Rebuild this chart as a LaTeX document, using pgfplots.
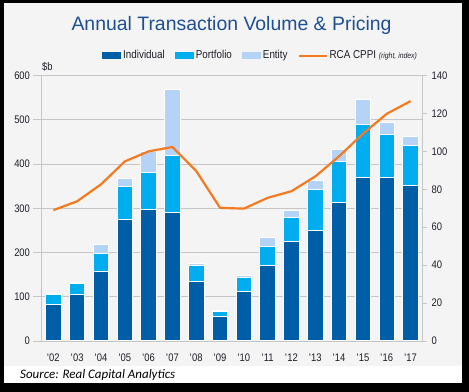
\documentclass[border=0pt]{standalone}
\usepackage{pgfplots}
\pgfplotsset{compat=1.18}
\usepackage{fontspec}
\setmainfont{Liberation Sans}
\newfontfamily\narrowfont{Liberation Sans}[FakeStretch=0.86]
\newfontfamily\sourcefont{Carlito}
\definecolor{indiv}{RGB}{0,94,166}
\definecolor{portf}{RGB}{0,174,239}
\definecolor{entity}{RGB}{180,211,247}
\definecolor{cppi}{RGB}{244,121,32}
\definecolor{bg}{RGB}{243,244,243}
\definecolor{gridgray}{RGB}{198,198,198}
\definecolor{titleblue}{RGB}{31,79,147}
\definecolor{txt}{RGB}{30,30,40}
\pgfplotsset{
  barlegend/.style={legend image code/.code={\path[##1, draw=none] (0bp,-3.5bp) rectangle (19bp,3.5bp);}},
  linelegend/.style={legend image code/.code={\draw[##1] (0bp,0bp) -- (28bp,0bp);}},
}
\begin{document}
\begin{tikzpicture}
\fill[black] (0bp,0bp) rectangle (469bp,392bp);
\fill[white] (4bp,9bp) rectangle (462bp,389bp);
\fill[bg] (4bp,26bp) rectangle (462bp,389bp);
\node[anchor=base, text=titleblue, font=\fontsize{19.5}{20}\selectfont, inner sep=0] at (231.5bp,361bp) {Annual Transaction Volume \& Pricing};
\node[anchor=base west, font=\sourcefont\itshape\fontsize{13}{14}\selectfont, inner sep=0] at (20bp,14bp) {Source: Real Capital Analytics};
\begin{axis}[
  at={(41.5bp,51bp)}, anchor=south west, scale only axis,
  width=381bp, height=265.5bp,
  xmin=-0.5, xmax=15.5, ymin=0, ymax=600,
  ybar stacked, bar width=15.5bp,
  axis x line*=bottom, axis y line*=left,
  axis line style={draw=gridgray, line width=0.8pt},
  ytick={0,100,...,600}, ymajorgrids,
  grid style={gridgray, line width=0.8pt},
  xtick={0,...,15},
  xticklabels={\textquotesingle02,\textquotesingle03,\textquotesingle04,\textquotesingle05,\textquotesingle06,\textquotesingle07,\textquotesingle08,\textquotesingle09,\textquotesingle10,\textquotesingle11,\textquotesingle12,\textquotesingle13,\textquotesingle14,\textquotesingle15,\textquotesingle16,\textquotesingle17},
  tick align=outside, major tick length=8bp,
  xtick style={draw=none}, ytick style={draw=gridgray, line width=0.8pt},
  /pgf/number format/assume math mode=true,
  tick label style={font=\narrowfont\fontsize{11}{11}\selectfont, text=txt},
  xticklabel style={yshift=-1bp},
  legend columns=4,
  legend style={at={(0.575,1.075)}, anchor=center, draw=none, fill=none,
    font=\narrowfont\fontsize{11.5}{12}\selectfont, text=txt,
    /tikz/every even column/.append style={column sep=8bp},
    inner sep=0pt},
  every axis plot/.append style={draw=white, line width=1bp},
  clip=false,
]
\addplot[fill=indiv, barlegend] coordinates {(0,83) (1,104) (2,158) (3,275) (4,298) (5,291) (6,135) (7,55) (8,111) (9,170) (10,224) (11,249) (12,313) (13,370) (14,370) (15,352)};
\addplot[fill=portf, barlegend] coordinates {(0,22.5) (1,26) (2,40) (3,74) (4,82) (5,129) (6,35) (7,12) (8,33) (9,43) (10,56) (11,94) (12,93) (13,120) (14,97) (15,89)};
\addplot[fill=entity, barlegend] coordinates {(0,1.5) (1,1.5) (2,20) (3,19) (4,49) (5,149) (6,5) (7,1.5) (8,4) (9,20) (10,16) (11,19) (12,26) (13,55) (14,26) (15,21)};
\addlegendimage{linelegend, cppi, line width=2bp}
\legend{Individual, Portfolio, Entity, {RCA CPPI {\fontsize{8}{8}\selectfont\itshape (right, index)}}}
\node[anchor=base west, font=\narrowfont\fontsize{11}{11}\selectfont, text=txt, inner sep=0] at (rel axis cs:0,1) [yshift=5bp, xshift=0.5bp] {\$b};
\end{axis}
\begin{axis}[
  at={(41.5bp,51bp)}, anchor=south west, scale only axis,
  width=381bp, height=265.5bp,
  xmin=-0.5, xmax=15.5, ymin=0, ymax=140,
  axis x line=none, axis y line*=right,
  axis line style={draw=gridgray, line width=0.8pt},
  ytick={0,20,...,140},
  tick align=outside, major tick length=4bp,
  ytick style={draw=gridgray, line width=0.8pt},
  /pgf/number format/assume math mode=true,
  tick label style={font=\narrowfont\fontsize{11}{11}\selectfont, text=txt},
  yticklabel style={xshift=1.5bp},
  clip=false,
]
\addplot[cppi, line width=2.2bp, line join=round] coordinates {(0,69) (1,73.7) (2,82.6) (3,94.7) (4,100) (5,102.3) (6,89.6) (7,70.2) (8,69.8) (9,75.5) (10,79) (11,86.8) (12,97.4) (13,109.3) (14,119.8) (15,126.5)};
\end{axis}
\end{tikzpicture}
\end{document}
